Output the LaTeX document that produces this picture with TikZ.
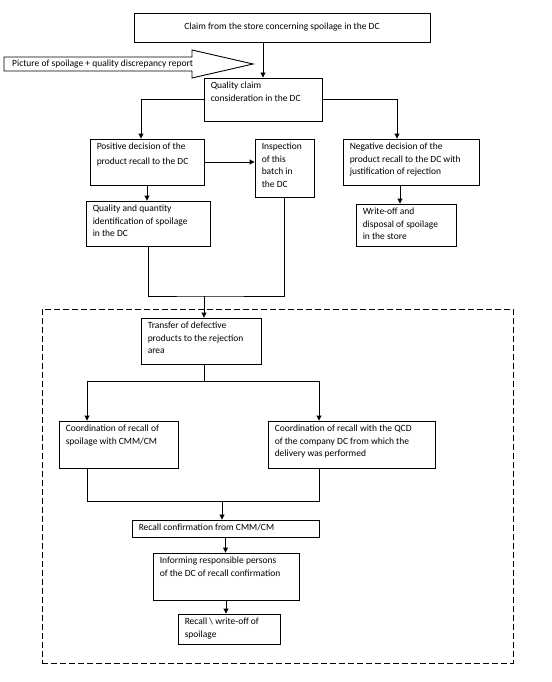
\documentclass[tikz,border=0pt]{standalone}
\usepackage{fontspec}
\setmainfont{Carlito}
\usetikzlibrary{arrows.meta,fit,calc}
\tikzset{
  bx/.style={draw, line width=0.9pt, inner sep=0pt},
  tx/.style={anchor=north west, align=left, inner sep=0pt, font=\fontsize{9.5}{12.8}\selectfont},
  ln/.style={line width=0.9pt},
  arr/.style={ln, -{Triangle[width=5pt,length=5pt]}},
  grp/.style={draw, line width=1pt, dash pattern=on 6pt off 3pt, inner sep=0pt},
}
\newcommand\mybox[7]{%
  \coordinate (#1a) at (#2,#3);
  \coordinate (#1b) at (#4,#5);
  \node[bx, fit=(#1a)(#1b)] (#1) {};
  \node[tx,#6] (#1t) at ([xshift=7pt,yshift=-4pt]#1.north west) {#7};
}
\begin{document}
\begin{tikzpicture}[x=1pt,y=-1pt]
\useasboundingbox (0,0) rectangle (551,682);
% group
\coordinate (ga) at (42,309);
\coordinate (gb) at (513,663);
\node[grp, fit=(ga)(gb)] (group) {};
% top box
\coordinate (ca) at (134,13);
\coordinate (cb) at (430,42);
\node[bx, fit=(ca)(cb)] (claim) {};
\node[tx, anchor=center] (claimt) at (claim.center) {Claim from the store concerning spoilage in the DC};
% big arrow
\draw[ln, line join=miter] (4,57) -- (192,57) -- (192,50) -- (253,64) -- (192,78) -- (192,71) -- (4,71) -- cycle;
\node[tx, anchor=west] (pic) at (12,64) {Picture of spoilage + quality discrepancy report};
% boxes
\mybox{qual}{204}{78}{322}{121}{}{Quality claim\\consideration in the DC}
\mybox{pos}{90}{139}{204}{185}{font=\fontsize{9.5}{15}\selectfont}{Positive decision of the\\product recall to the DC}
\mybox{insp}{255}{139}{314}{197}{}{Inspection\\of this\\batch in\\the DC}
\mybox{neg}{343}{139}{479}{185}{}{Negative decision of the\\product recall to the DC with\\justification of rejection}
\mybox{qq}{86}{201}{210}{246}{}{Quality and quantity\\identification of spoilage\\in the DC}
\mybox{wo}{356}{204}{456}{246}{}{Write-off and\\disposal of spoilage\\in the store}
\mybox{tr}{141}{318}{261}{364}{}{Transfer of defective\\products to the rejection\\area}
\mybox{cl}{59}{421}{178}{468}{}{Coordination of recall of\\spoilage with CMM/CM}
\mybox{cr}{268}{421}{435}{468}{}{Coordination of recall with the QCD\\of the company DC from which the\\delivery was performed}
\mybox{rc}{132}{520}{319}{537}{}{Recall confirmation from CMM/CM}
\mybox{inf}{153}{553}{299}{600}{}{Informing responsible persons\\of the DC of recall confirmation}
\mybox{rw}{178}{614}{280}{644}{}{Recall \textbackslash{} write-off of\\spoilage}
% connectors
\draw[arr] (claim.south -| qual.north) -- (qual.north);
\draw[arr] (qual.west) -| ($(pos.north)+(-6,0)$);
\draw[arr] (qual.east) -| ($(neg.north)+(-14,0)$);
\draw[arr] (pos.east) -- (pos.east -| insp.west);
\draw[arr] (pos.south) -- (pos.south |- qq.north);
\coordinate (ns) at ($(neg.south)+(-11,0)$);
\draw[arr] (ns) -- (ns |- wo.north);
\coordinate (j1) at (204,296);
\draw[ln] (qq.south) |- (j1) -| (insp.south);
\draw[arr] (j1) -- (j1 |- tr.north);
\coordinate (j2) at (204,381);
\coordinate (l1) at (87,381);
\coordinate (r1) at (319,381);
\draw[ln] (j2 |- tr.south) -- (j2);
\draw[ln] (l1) -- (r1);
\draw[arr] (l1) -- (l1 |- cl.north);
\draw[arr] (r1) -- (r1 |- cr.north);
\coordinate (l2) at (87,501);
\coordinate (r2) at (319,501);
\coordinate (j3) at (222,501);
\draw[ln] (l2 |- cl.south) -- (l2) -- (r2) -- (r2 |- cr.south);
\draw[arr] (j3) -- (j3 |- rc.north);
\draw[arr] (rc.south) -- (rc.south |- inf.north);
\draw[arr] (inf.south) -- (inf.south |- rw.north);
\end{tikzpicture}
\end{document}
